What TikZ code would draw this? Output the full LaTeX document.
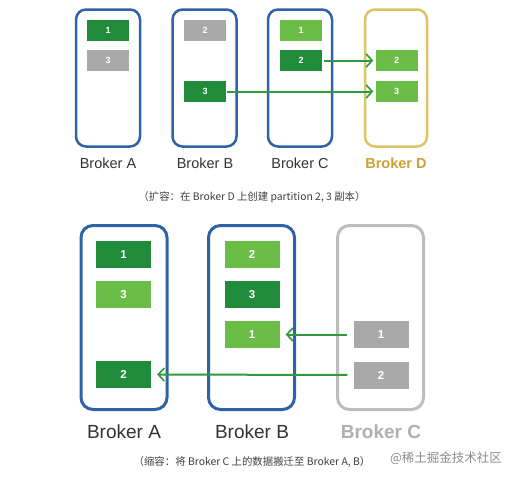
\documentclass[tikz,border=0pt]{standalone}
\usepackage{fontspec}
\setmainfont{Liberation Sans}
\newfontfamily\cjk{Noto Sans CJK SC}
\usetikzlibrary{arrows.meta}
\definecolor{dkgreen}{HTML}{1F8B3B}
\definecolor{ltgreen}{HTML}{6CBD47}
\definecolor{partgray}{HTML}{A9A9A9}
\definecolor{bblue}{HTML}{2F62A6}
\definecolor{bgold}{HTML}{DCC468}
\definecolor{gold}{HTML}{CDA235}
\definecolor{bgray}{HTML}{BDBDBD}
\definecolor{labgray}{HTML}{B0B0B0}
\definecolor{arrgreen}{HTML}{2E9A40}
\tikzset{
  brokerS/.style={draw=bblue, line width=2.5pt, rounded corners=10pt, minimum width=64pt, minimum height=137pt, inner sep=0pt},
  brokerL/.style={draw=bblue, line width=3pt, rounded corners=12pt, minimum width=86pt, minimum height=184pt, inner sep=0pt},
  partS/.style={minimum width=42pt, minimum height=21pt, inner sep=0pt, text=white, font=\fontsize{9}{10}\selectfont\bfseries},
  partL/.style={minimum width=55pt, minimum height=27pt, inner sep=0pt, text=white, font=\fontsize{11.5}{13}\selectfont\bfseries},
  labS/.style={font=\fontsize{14.5}{16}\selectfont, text=black!80},
  labL/.style={font=\fontsize{19}{22}\selectfont, text=black!80},
  captext/.style={font=\cjk\fontsize{10.4}{12}\selectfont, text=black!75},
  mv/.style={draw=arrgreen, line width=2pt, -{Straight Barb[length=6pt,width=13pt,line width=1.6pt]}}
}
\begin{document}
\begin{tikzpicture}[x=1pt,y=-1pt]
\useasboundingbox[fill=white] (0,0) rectangle (518,483);
% ---- top row ----
\node[brokerS] (bA) at (108,78) {};
\node[brokerS] (bB) at (204.5,78) {};
\node[brokerS] (bC) at (300,78) {};
\node[brokerS, draw=bgold, minimum width=62pt] (bD) at (396,78) {};
\node[partS, fill=dkgreen] (a1) at (108,30.5) {1};
\node[partS, fill=partgray] (a3) at (108,60.5) {3};
\node[partS, fill=partgray] (b2) at (205,30.5) {2};
\node[partS, fill=dkgreen] (b3) at (205,91.5) {3};
\node[partS, fill=ltgreen] (c1) at (301,30.5) {1};
\node[partS, fill=dkgreen] (c2) at (301,60.5) {2};
\node[partS, fill=ltgreen] (d2) at (396.5,60.5) {2};
\node[partS, fill=ltgreen] (d3) at (396.5,91.5) {3};
\node[labS] (lA) at (108,163) {Broker A};
\node[labS] (lB) at (205,163) {Broker B};
\node[labS] (lC) at (300,163) {Broker C};
\node[labS, text=gold, font=\fontsize{14.5}{16}\selectfont\bfseries] (lD) at (396,163) {Broker D};
\draw[mv, shorten <=2pt, shorten >=2pt] (c2.east) -- (d2.west);
\draw[mv, shorten <=1pt, shorten >=2pt] (b3.east) -- (d3.west);
\node[captext] (cap1) at (252,197) {（扩容：在 Broker D 上创建 partition 2, 3 副本）};
% ---- bottom row ----
\node[brokerL] (BA) at (124,317.5) {};
\node[brokerL] (BB) at (251.5,317.5) {};
\node[brokerL, draw=bgray] (BC) at (380.5,317.5) {};
\node[partL, fill=dkgreen] (A1) at (123.5,254.5) {1};
\node[partL, fill=ltgreen] (A3) at (123.5,294.5) {3};
\node[partL, fill=dkgreen] (A2) at (123.5,374.5) {2};
\node[partL, fill=ltgreen] (B2) at (252,254.5) {2};
\node[partL, fill=dkgreen] (B3) at (252,294.5) {3};
\node[partL, fill=ltgreen] (B1) at (252,334.5) {1};
\node[partL, fill=partgray] (C1) at (381,334.5) {1};
\node[partL, fill=partgray] (C2) at (381,375) {2};
\node[labL] (LA) at (124,432) {Broker A};
\node[labL] (LB) at (252,432) {Broker B};
\node[labL, text=labgray, font=\fontsize{19}{22}\selectfont\bfseries] (LC) at (381,432) {Broker C};
\draw[mv, shorten <=6pt, shorten >=6pt] (C1.west) -- (B1.east);
\draw[mv, shorten <=6pt, shorten >=6pt] (C2.west) -- (A2.east);
\node[captext] (cap2) at (252,462) {（缩容：将 Broker C 上的数据搬迁至 Broker A, B）};
\node[font=\cjk\fontsize{12.5}{14}\selectfont, text=black!45] (wm) at (446,458) {@稀土掘金技术社区};
\end{tikzpicture}
\end{document}
